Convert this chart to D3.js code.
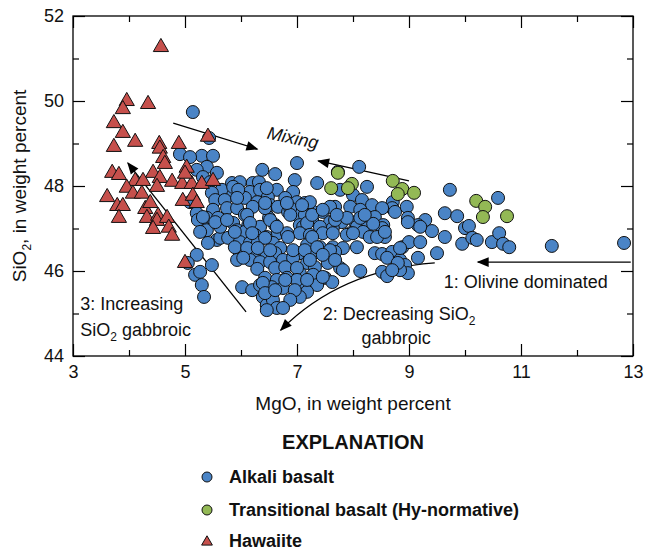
<!DOCTYPE html>
<html lang="en">
<head>
<meta charset="UTF-8">
<script src="https://cdn.jsdelivr.net/npm/d3@7"></script>
<style>
  * { margin: 0; padding: 0; }
  body { background: #fff; }
  svg { display: block; font-family: "Liberation Sans Narrow", "Arial Narrow", "Liberation Sans", sans-serif; }
</style>
</head>
<body>
<div id="chart"></div>
<script>
// MgO, SiO2 pairs (weight percent)
var alkali = [
  [5.14,49.74],[5.43,49.13],[4.91,48.75],[5.30,48.71],[5.50,48.71],[5.09,48.68],[5.39,48.45],[5.57,48.31],
  [5.21,48.38],[5.32,48.21],[5.45,48.09],[5.66,47.91],[5.48,47.84],[5.86,47.79],[5.84,48.07],[5.98,48.09],
  [5.86,47.98],[6.21,48.07],[6.32,48.09],[6.38,48.38],[6.61,48.28],[7.00,48.54],[6.96,48.14],[6.64,47.91],
  [6.93,47.86],[6.16,47.86],[6.34,47.91],[6.48,47.74],[6.79,47.72],[7.00,47.62],[5.54,47.67],[5.71,47.67],
  [6.07,47.72],[6.29,47.62],[6.52,47.55],[6.66,47.51],[5.50,47.44],[5.75,47.48],[5.93,47.48],[6.07,47.32],
  [6.84,47.39],[7.00,47.32],[7.14,47.32],[5.39,47.25],[5.59,47.25],[6.50,47.25],[5.86,47.13],[6.13,47.08],
  [6.34,47.04],[6.61,47.08],[7.05,47.08],[5.32,47.04],[5.09,47.62],[5.21,47.36],[5.23,47.20],[5.39,46.96],
  [5.57,46.73],[5.41,46.66],[5.63,46.78],
  [8.11,48.45],[7.73,48.33],[7.36,48.07],[8.25,47.98],[7.77,47.91],[9.73,47.91],[8.00,47.79],[8.16,47.67],
  [8.34,47.55],[8.71,47.62],[8.70,47.48],[8.75,47.39],[8.96,47.51],[8.52,47.48],[7.68,47.51],[7.95,47.51],
  [8.13,47.44],[7.29,47.39],[7.46,47.39],[7.14,47.60],[7.23,47.62],[7.27,47.20],[7.59,47.15],[7.80,47.15],
  [8.39,47.27],[8.98,47.25],[9.29,47.20],[9.16,47.08],[9.64,47.36],[8.04,47.15],[8.07,47.04],[8.54,47.08],
  [7.11,47.04],[7.41,47.04],[7.64,47.01],[8.25,47.01],[10.59,47.72],[8.13,47.25],[9.86,47.29],[10.00,47.01],
  [10.07,47.06],[9.41,46.94],[9.64,46.80],[7.95,46.89],[8.18,46.92],[8.30,46.80],[8.52,47.01],[8.57,46.80],
  [8.43,46.80],[9.95,46.64],[10.13,46.78],[10.21,46.73],[10.48,46.68],[10.61,46.89],[10.68,46.64],[10.79,46.56],
  [11.55,46.59],[12.84,46.66],[8.88,46.56],[9.00,46.68],[9.20,46.68],[8.39,46.42],[8.52,46.40],[8.70,46.45],
  [8.61,46.31],[9.16,46.31],[9.50,46.42],[8.84,46.26],[8.93,46.14],[8.98,45.95],[8.84,46.02],[8.52,45.98],
  [8.61,45.88],[8.13,46.00],
  [7.18,47.13],[8.36,47.11],[8.57,46.92],[8.98,47.15],[9.20,47.04],[7.05,46.89],[7.23,46.85],[7.46,46.89],
  [7.64,46.89],[7.89,46.85],[7.18,46.61],[7.41,46.56],[7.64,46.56],[7.82,46.54],[7.05,46.42],[7.29,46.42],
  [7.54,46.42],[7.68,46.45],[8.84,46.54],[7.18,46.19],[7.32,46.09],[7.55,46.19],[7.77,46.07],[7.82,46.02],
  [8.80,46.19],[8.70,46.02],[7.05,45.95],[7.29,45.91],[7.50,45.84],[7.63,45.74],[7.14,45.72],[7.36,45.67],
  [7.18,45.51],[7.05,45.39],
  [5.63,47.04],[5.93,46.96],[6.07,46.92],[6.25,46.85],[6.46,46.80],[6.66,46.89],[6.82,46.89],[5.77,46.78],
  [5.98,46.68],[6.16,46.66],[6.30,46.66],[6.57,46.66],[6.70,46.54],[5.21,46.38],[5.98,46.42],[6.13,46.42],
  [6.29,46.42],[6.46,46.38],[6.61,46.42],[5.93,46.26],[6.16,46.26],[6.34,46.21],[6.52,46.21],[6.75,46.26],
  [6.93,46.31],[5.48,46.14],[5.05,46.19],[5.18,45.91],[5.27,45.98],[6.29,46.05],[6.61,46.07],[6.79,46.09],
  [7.00,46.07],[6.43,45.84],[6.64,45.79],[6.82,45.84],[7.00,45.79],[5.30,45.67],[6.02,45.62],[6.20,45.55],
  [6.34,45.67],[6.55,45.62],[6.75,45.60],[6.96,45.55],[5.34,45.39],[6.39,45.39],[6.46,45.20],[6.57,45.32],
  [6.88,45.32],[6.64,45.13],[6.75,45.13],[6.46,45.08],
  [6.21,47.51],[6.43,47.48],[6.88,47.48],[7.09,47.55],[7.59,47.51],[5.32,47.27],[5.54,47.15],[5.75,47.20],
  [6.11,47.32],[6.16,47.13],[6.52,47.20],[6.64,47.04],[6.88,47.32],[7.27,47.32],[7.68,47.20],[7.89,47.25],
  [8.21,47.32],[5.27,46.92],[5.89,46.92],[6.20,46.89],[6.43,46.78],[6.84,46.80],[7.27,46.80],[8.00,46.89],
  [5.89,46.56],[6.11,46.54],[6.30,46.54],[6.52,46.49],[6.93,46.49],[7.14,46.49],[7.36,46.56],[7.59,46.49],
  [8.07,46.56],[6.04,46.31],[7.23,46.26],[7.46,46.38],[7.68,46.26],[6.39,45.72],[6.43,45.48],[6.61,45.55],
  [6.79,45.79],[7.18,45.79],[7.46,45.86],
  [5.95,47.91],[6.46,47.95],[5.93,47.72],[6.43,47.60],[6.82,47.60],[7.46,47.44],[7.71,47.32]
];

var transitional = [
  [7.73,48.31],[7.98,48.05],[7.91,47.95],[7.61,47.95],[8.71,48.12],[8.88,47.93],
  [8.80,47.81],[9.09,47.84],[10.20,47.65],[10.36,47.51],[10.32,47.27],[10.75,47.29]
];

var hawaiite = [
  [4.57,51.29],[3.96,50.02],[3.89,49.83],[4.34,49.95],[3.73,49.50],[3.89,49.27],[4.11,49.06],[3.73,48.94],
  [4.54,49.01],[4.55,48.90],[4.89,49.01],[5.41,49.18],[4.61,48.68],[4.64,48.54],[5.03,48.45],[3.70,48.33],
  [3.82,48.28],[4.43,48.33],[4.11,48.14],[4.25,48.14],[4.55,48.21],[4.77,48.12],[3.96,47.98],[3.61,47.76],
  [4.07,47.84],[4.23,47.84],[4.50,48.00],[4.95,48.07],[5.12,48.07],[5.30,48.07],[5.50,48.14],[5.00,48.31],
  [3.79,47.55],[3.89,47.55],[3.82,47.27],[4.29,47.48],[4.38,47.62],[4.32,47.27],[4.52,47.32],[4.50,47.20],
  [4.68,47.27],[4.43,47.01],[4.71,47.04],[4.77,46.85],[4.96,47.67],[5.14,47.79],[5.21,47.62],[5.00,46.21]
];

var xMajor = [3, 5, 7, 9, 11, 13];
var xMinor = [4, 6, 8, 10, 12];
var yMajor = [44, 46, 48, 50, 52];
var yMinor = [45, 47, 49, 51];

var legendItems = ["Alkali basalt", "Transitional basalt (Hy-normative)", "Hawaiite"];
var colors = { alkali: "#4a84c6", trans: "#93b955", haw: "#c6504c" };

var W = 649, H = 552;
var padL = 73, padR = 633, padT = 16, padB = 356;

var x = d3.scaleLinear().domain([3, 13]).range([padL, padR]);
var y = d3.scaleLinear().domain([44, 52]).range([padB, padT]);

var svg = d3.select("#chart").append("svg").attr("width", W).attr("height", H);

// frame
svg.append("rect")
  .attr("x", padL).attr("y", padT)
  .attr("width", padR - padL).attr("height", padB - padT)
  .attr("fill", "none").attr("stroke", "#000").attr("stroke-width", 1.3);

function tickAxis(axis, g, values, size, labels) {
  axis.tickValues(values).tickSize(-size).tickPadding(9);
  if (!labels) axis.tickFormat("");
  g.call(axis);
  g.select(".domain").remove();
  g.selectAll("line").attr("stroke", "#000").attr("stroke-width", 1.2);
  g.selectAll("text").attr("font-size", 18).attr("fill", "#111").attr("font-family", null);
}

tickAxis(d3.axisBottom(x), svg.append("g").attr("transform", "translate(0," + padB + ")"), xMajor, 12, true);
tickAxis(d3.axisBottom(x), svg.append("g").attr("transform", "translate(0," + padB + ")"), xMinor, 6, false);
tickAxis(d3.axisTop(x), svg.append("g").attr("transform", "translate(0," + padT + ")"), xMajor, 12, false);
tickAxis(d3.axisTop(x), svg.append("g").attr("transform", "translate(0," + padT + ")"), xMinor, 6, false);
tickAxis(d3.axisLeft(y), svg.append("g").attr("transform", "translate(" + padL + ",0)"), yMajor, 12, true);
tickAxis(d3.axisLeft(y), svg.append("g").attr("transform", "translate(" + padL + ",0)"), yMinor, 6, false);
tickAxis(d3.axisRight(y), svg.append("g").attr("transform", "translate(" + padR + ",0)"), yMajor, 12, false);
tickAxis(d3.axisRight(y), svg.append("g").attr("transform", "translate(" + padR + ",0)"), yMinor, 6, false);

// axis titles
var yt = svg.append("text")
  .attr("transform", "translate(26," + ((padT + padB) / 2) + ") rotate(-90)")
  .attr("text-anchor", "middle").attr("font-size", 19).attr("fill", "#111");
yt.append("tspan").text("SiO");
yt.append("tspan").attr("font-size", 12).attr("dy", 5).text("2");
yt.append("tspan").attr("dy", -5).text(", in weight percent");

svg.append("text")
  .attr("x", (padL + padR) / 2).attr("y", 410)
  .attr("text-anchor", "middle").attr("font-size", 19).attr("fill", "#111")
  .text("MgO, in weight percent");

// trend arrows
var defs = svg.append("defs");
defs.append("marker")
  .attr("id", "ah").attr("viewBox", "0 0 10 10")
  .attr("refX", 9).attr("refY", 5)
  .attr("markerWidth", 17).attr("markerHeight", 12)
  .attr("markerUnits", "userSpaceOnUse")
  .attr("orient", "auto")
  .append("path").attr("d", "M0,1 L10,5 L0,9 Z").attr("fill", "#000");

var arrows = [
  [[4.79, 49.48], [6.29, 48.87]],
  [[9.00, 48.12], [7.38, 48.59]],
  [[12.96, 46.21], [10.23, 46.21]],
  [[6.09, 45.04], [3.98, 48.54]]
];
arrows.forEach(function(a) {
  svg.append("line")
    .attr("x1", x(a[0][0])).attr("y1", y(a[0][1]))
    .attr("x2", x(a[1][0])).attr("y2", y(a[1][1]))
    .attr("stroke", "#000").attr("stroke-width", 1.3)
    .attr("marker-end", "url(#ah)");
});

var curve = d3.path();
curve.moveTo(x(9.46), y(46.19));
curve.quadraticCurveTo(x(7.77), y(46.02), x(6.71), y(44.61));
svg.append("path").attr("d", curve.toString())
  .attr("fill", "none").attr("stroke", "#000").attr("stroke-width", 1.3)
  .attr("marker-end", "url(#ah)");

// points
var g = svg.append("g");
g.selectAll("circle.alk").data(alkali).enter().append("circle")
  .attr("class", "alk")
  .attr("cx", function(d) { return x(d[0]); })
  .attr("cy", function(d) { return y(d[1]); })
  .attr("r", 6.5)
  .attr("fill", colors.alkali).attr("stroke", "#111").attr("stroke-width", 1);

g.selectAll("circle.tr").data(transitional).enter().append("circle")
  .attr("class", "tr")
  .attr("cx", function(d) { return x(d[0]); })
  .attr("cy", function(d) { return y(d[1]); })
  .attr("r", 6.5)
  .attr("fill", colors.trans).attr("stroke", "#111").attr("stroke-width", 1);

var tri = d3.symbol().type(d3.symbolTriangle).size(100);
g.selectAll("path.haw").data(hawaiite).enter().append("path")
  .attr("class", "haw")
  .attr("d", tri)
  .attr("transform", function(d) { return "translate(" + x(d[0]) + "," + (y(d[1]) + 1) + ")"; })
  .attr("fill", colors.haw).attr("stroke", "#111").attr("stroke-width", 1);

// annotations
function label(txt, px, py, opts) {
  opts = opts || {};
  var t = svg.append("text")
    .attr("x", px).attr("y", py)
    .attr("font-size", 18).attr("fill", "#111")
    .attr("text-anchor", opts.anchor || "start");
  if (opts.italic) t.attr("font-style", "italic");
  if (opts.rotate) t.attr("transform", "rotate(" + opts.rotate + "," + px + "," + py + ")");
  txt.forEach(function(part) {
    var s = t.append("tspan").text(part[0]);
    if (part[1] === "sub") s.attr("font-size", 12).attr("dy", 5);
    if (part[1] === "up") s.attr("dy", -5);
  });
  return t;
}
label([["Mixing"]], x(6.45), y(49.12), { italic: true, rotate: 12 });
label([["1: Olivine dominated"]], x(9.62), y(45.59));
label([["2: Decreasing SiO"], ["2", "sub"], ["", "up"]], x(7.46), y(44.84));
label([["gabbroic"]], x(8.77), y(44.29), { anchor: "middle" });
label([["3: Increasing"]], x(3.13), y(45.09));
label([["SiO"], ["2", "sub"], [" gabbroic", "up"]], x(3.13), y(44.48));

// explanation
svg.append("text")
  .attr("x", 353).attr("y", 449)
  .attr("text-anchor", "middle").attr("font-size", 20).attr("font-weight", "bold").attr("fill", "#111")
  .text("EXPLANATION");

var ly = [477, 510, 541];
legendItems.forEach(function(name, i) {
  var cy = ly[i];
  if (i < 2) {
    svg.append("circle").attr("cx", 207).attr("cy", cy).attr("r", 5)
      .attr("fill", i === 0 ? colors.alkali : colors.trans)
      .attr("stroke", "#111").attr("stroke-width", 1);
  } else {
    svg.append("path").attr("d", d3.symbol().type(d3.symbolTriangle).size(50))
      .attr("transform", "translate(207," + (cy + 1) + ")")
      .attr("fill", colors.haw).attr("stroke", "#111").attr("stroke-width", 1);
  }
  svg.append("text")
    .attr("x", 229).attr("y", cy + 6)
    .attr("font-size", 18).attr("font-weight", "bold").attr("fill", "#111")
    .text(name);
});
</script>
</body>
</html>
